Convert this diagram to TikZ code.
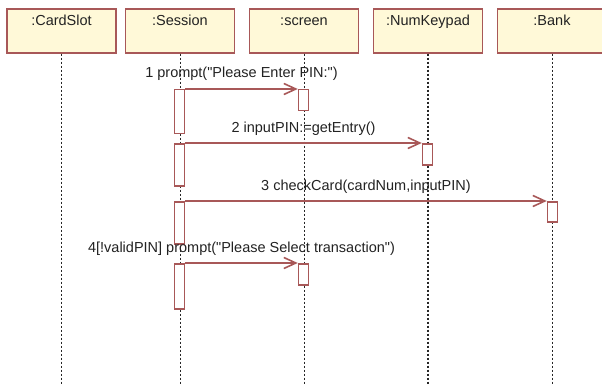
\documentclass[tikz,border=0pt]{standalone}
\usepackage{fontspec}
\setmainfont{Liberation Sans}[Ligatures=TeXOff]
\usetikzlibrary{arrows.meta,calc}
\definecolor{bord}{HTML}{A85858}
\definecolor{objfill}{HTML}{FFF9D8}
\definecolor{txt}{HTML}{222222}
\begin{document}
\begin{tikzpicture}[x=1pt,y=-1pt,
  obj/.style={draw=bord, fill=objfill, line width=1.6pt, minimum width=109pt, minimum height=44pt, inner sep=0pt, anchor=north},
  objtext/.style={anchor=base, text=txt, font=\fontsize{14.5}{16}\selectfont, inner sep=0pt},
  lifeline/.style={draw=black!85, line width=1.6pt, dash pattern=on 2pt off 2pt},
  act/.style={draw=bord, fill=white, line width=1.5pt, minimum width=10pt, inner sep=0pt, anchor=north},
  msg/.style={draw=bord, line width=1.6pt, -{Straight Barb[length=12pt,width=11pt,line width=1.6pt]}},
  lbl/.style={anchor=base, text=txt, font=\fontsize{14.5}{16}\selectfont, inner sep=0pt}
]
\useasboundingbox (0,0) rectangle (602,385);
% objects
\node[obj] (cs) at (61.5,8) {};
\node[obj] (se) at (180,8) {};
\node[obj] (sc) at (304,8) {};
\node[obj] (nk) at (428,8) {};
\node[obj] (bk) at (552,8) {};
\node[objtext] (tcs) at ([yshift=-18pt]cs.north) {:CardSlot};
\node[objtext] (tse) at ([yshift=-18pt]se.north) {:Session};
\node[objtext] (tsc) at ([yshift=-18pt]sc.north) {:screen};
\node[objtext] (tnk) at ([yshift=-18pt]nk.north) {:NumKeypad};
\node[objtext] (tbk) at ([yshift=-18pt]bk.north) {:Bank};
% lifeline ends
\coordinate (ecs) at (61.5,385);
\coordinate (ese) at (180.5,385);
\coordinate (esc) at (304.5,385);
\coordinate (enk) at (428,385);
\coordinate (ebk) at (552.5,385);
\draw[lifeline] (cs.south -| ecs) -- (ecs);
\draw[lifeline] (se.south -| ese) -- (ese);
\draw[lifeline] (sc.south -| esc) -- (esc);
\draw[lifeline] (nk.south -| enk) -- (enk);
\draw[lifeline] (bk.south -| ebk) -- (ebk);
% activations
\node[act, minimum height=44pt] (s1) at (179.5,89) {};
\node[act, minimum height=42pt] (s2) at (179.5,143) {};
\node[act, minimum height=42pt] (s3) at (179.5,201) {};
\node[act, minimum height=45pt] (s4) at (179.5,263) {};
\node[act, minimum height=21pt] (c1) at (303.5,89) {};
\node[act, minimum height=21pt] (n2) at (427.5,143) {};
\node[act, minimum height=20pt] (b3) at (552.5,201) {};
\node[act, minimum height=21pt] (c4) at (303.5,263) {};
% messages
\draw[msg] (s1.north east) -- (c1.north west);
\draw[msg] (s2.north east) -- (n2.north west);
\draw[msg] (s3.north east) -- (b3.north west);
\draw[msg] (s4.north east) -- (c4.north west);
% labels
\node[lbl] (l1) at ($(s1.north east)!0.5!(c1.north west)+(0,-11)$) {1 prompt("Please Enter PIN:")};
\node[lbl] (l2) at ($(s2.north east)!0.5!(n2.north west)+(0,-11)$) {2 inputPIN:=getEntry()};
\node[lbl] (l3) at ($(s3.north east)!0.5!(b3.north west)+(0,-11)$) {3 checkCard(cardNum,inputPIN)};
\node[lbl] (l4) at ($(s4.north east)!0.5!(c4.north west)+(0,-11)$) {4[!validPIN] prompt("Please Select transaction")};
\end{tikzpicture}
\end{document}
